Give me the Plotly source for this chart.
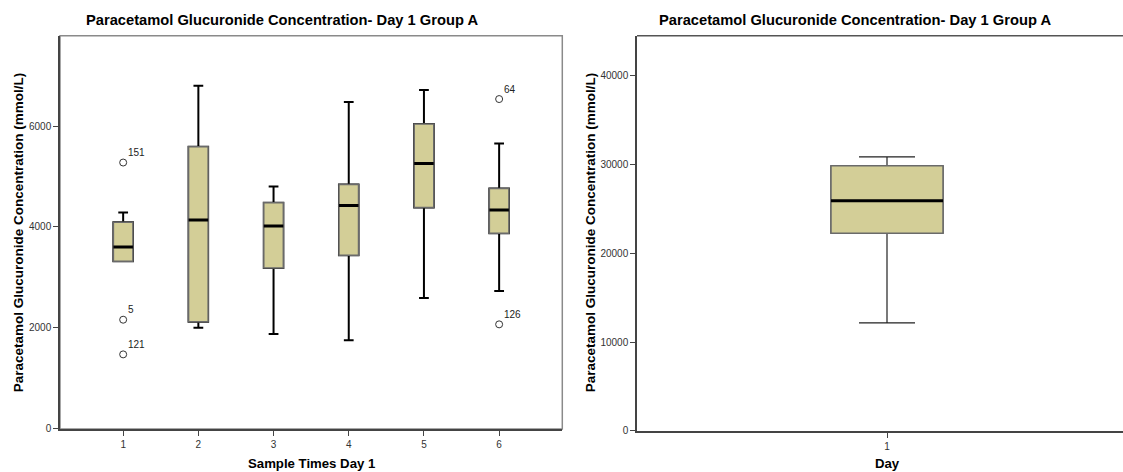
import plotly.graph_objects as go

# ---------------- data ----------------
title_text = "Paracetamol Glucuronide Concentration- Day 1 Group A"
y_title = "Paracetamol Glucuronide Concentration (mmol/L)"

# Left chart: sample times day 1
sample_times = [1, 2, 3, 4, 5, 6]
left_lower = [3320, 2004, 1879, 1754, 2593, 2732]
left_q1 = [3321, 2123, 3188, 3440, 4385, 3877]
left_median = [3605, 4141, 4022, 4424, 5258, 4339]
left_q3 = [4095, 5589, 4478, 4841, 6039, 4762]
left_upper = [4285, 6799, 4801, 6476, 6714, 5654]

outlier_x = [1, 1, 1, 6, 6]
outlier_y = [5277, 2163, 1476, 6535, 2071]
outlier_labels = ["151", "5", "121", "64", "126"]

left_yticks = [0, 2000, 4000, 6000]

# Right chart: day
days = [1]
right_lower = [12162]
right_q1 = [22260]
right_median = [25901]
right_q3 = [29842]
right_upper = [30856]
right_yticks = [0, 10000, 20000, 30000, 40000]

# ---------------- style ----------------
W, H = 1123, 472
FONT = "Liberation Sans, Arial, sans-serif"
FILL = "#d3ce97"
BOX_EDGE = "#6a6a6a"
AXIS = "#444444"

# vertical pixel placement helper (compensates the slight vertical squeeze
# observed in the rendered snapshot)
V_SCALE, V_OFF = 0.989, -0.7


def py(px):
    """paper fraction for a target pixel row measured from the top"""
    return 1 - ((px - V_OFF) / V_SCALE) / H


fig = go.Figure()


def add_boxes(x, lo, q1, med, q3, hi, xa, ya, width, whisk_w, whisk_color):
    # whiskers + caps
    fig.add_trace(go.Box(
        x=x, q1=q1, median=med, q3=q3, lowerfence=lo, upperfence=hi,
        fillcolor=FILL, line=dict(color=whisk_color, width=whisk_w),
        whiskerwidth=0.5, width=width, boxpoints=False,
        xaxis=xa, yaxis=ya, showlegend=False, hoverinfo="skip"))
    # box body with grey outline
    fig.add_trace(go.Box(
        x=x, q1=q1, median=med, q3=q3, lowerfence=q1, upperfence=q3,
        fillcolor=FILL, line=dict(color=BOX_EDGE, width=1.5),
        whiskerwidth=0, width=width, boxpoints=False,
        xaxis=xa, yaxis=ya, showlegend=False, hoverinfo="skip"))
    # thick median line
    fig.add_trace(go.Box(
        x=x, q1=med, median=med, q3=med, lowerfence=med, upperfence=med,
        fillcolor="rgba(0,0,0,0)", line=dict(color="black", width=3),
        whiskerwidth=0, width=width, boxpoints=False,
        xaxis=xa, yaxis=ya, showlegend=False, hoverinfo="skip"))


add_boxes(sample_times, left_lower, left_q1, left_median, left_q3, left_upper,
          "x", "y", 0.26, 2, "black")
add_boxes(days, right_lower, right_q1, right_median, right_q3, right_upper,
          "x2", "y2", 0.224, 1.2, "#222222")

# outliers
fig.add_trace(go.Scatter(
    x=outlier_x, y=outlier_y, mode="markers",
    marker=dict(symbol="circle-open", size=7, color="#333333", line=dict(width=1)),
    xaxis="x", yaxis="y", showlegend=False, hoverinfo="skip"))

annotations = []
for ox, oy, lab in zip(outlier_x, outlier_y, outlier_labels):
    annotations.append(dict(
        x=ox, y=oy, xref="x", yref="y", text=lab, showarrow=False,
        xanchor="left", yanchor="middle", xshift=3, yshift=10,
        font=dict(family=FONT, size=10, color="#222222")))

# chart titles
for cx in (281.5, 855):
    annotations.append(dict(
        x=cx / W, y=py(19), xref="paper", yref="paper", text=title_text,
        showarrow=False, xanchor="center", yanchor="middle",
        font=dict(family=FONT, size=14.7, color="black", weight="bold")))

# y axis titles
for cx in (18, 590):
    annotations.append(dict(
        x=cx / W, y=py(231.5), xref="paper", yref="paper", text=y_title,
        showarrow=False, textangle=-90, xanchor="center", yanchor="middle",
        font=dict(family=FONT, size=13.5, color="black", weight="bold")))

# x axis titles
annotations.append(dict(
    x=311 / W, y=py(463), xref="paper", yref="paper", text="Sample Times Day 1",
    showarrow=False, xanchor="center", yanchor="middle",
    font=dict(family=FONT, size=13.2, color="black", weight="bold")))
annotations.append(dict(
    x=days[0], y=py(463), xref="x2", yref="paper", text="Day",
    showarrow=False, xanchor="center", yanchor="middle",
    font=dict(family=FONT, size=13.2, color="black", weight="bold")))

axis_common = dict(
    showgrid=False, zeroline=False, showline=True, linecolor=AXIS, linewidth=1.5,
    ticks="outside", ticklen=5, tickwidth=1.2, tickcolor=AXIS, tickformat="d",
    tickfont=dict(family=FONT, size=10, color="#333333"))

shapes = [
    dict(type="rect", xref="x domain", yref="y domain", x0=0, x1=1, y0=0, y1=1,
         line=dict(color="#8a8a8a", width=1.5), layer="below"),
    dict(type="line", xref="x2 domain", yref="y2 domain", x0=0, x1=1, y0=1, y1=1,
         line=dict(color="#555555", width=1.5)),
]

fig.update_layout(
    width=W, height=H,
    margin=dict(l=0, r=0, t=0, b=0),
    paper_bgcolor="white", plot_bgcolor="white",
    boxmode="overlay",
    font=dict(family=FONT),
    xaxis=dict(domain=[60 / W, 562.3 / W], range=[0.16, 6.84],
               tickvals=sample_times, anchor="y", **axis_common),
    yaxis=dict(domain=[py(428), py(35)], range=[0, 7790],
               tickvals=left_yticks, anchor="x", **axis_common),
    xaxis2=dict(domain=[637 / W, 1.0], range=[0.5, 1.472],
                tickvals=days, anchor="y2", **axis_common),
    yaxis2=dict(domain=[py(430), py(35)], range=[0, 44500],
                tickvals=right_yticks, anchor="x2", **axis_common),
    annotations=annotations,
    shapes=shapes,
)

page_fix = (
    "var d=document.documentElement,b=document.body;"
    "d.style.margin='0';d.style.padding='0';d.style.overflow='hidden';d.style.height='472px';"
    "b.style.margin='0';b.style.padding='0';b.style.overflow='hidden';b.style.height='472px';"
)

fig.write_html(
    "out.html",
    config={"displayModeBar": False},
    post_script=page_fix,
)
